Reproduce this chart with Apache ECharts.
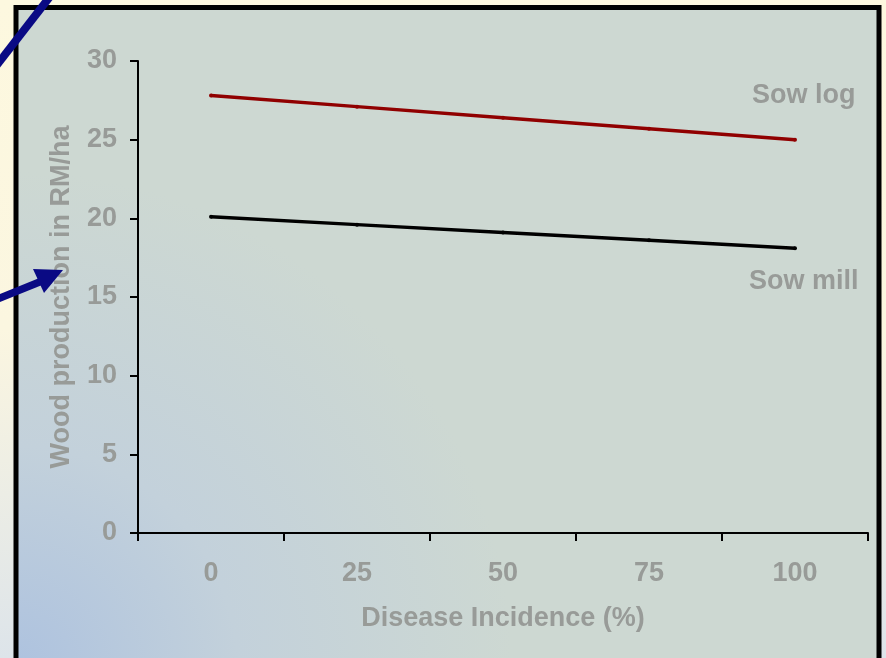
<!DOCTYPE html>
<html>
<head>
<meta charset="utf-8">
<script src="https://cdn.jsdelivr.net/npm/echarts@6/dist/echarts.min.js"></script>
<style>
html,body{margin:0;padding:0;background:#fdf8df;}
#chart{width:886px;height:658px;}
</style>
</head>
<body>
<div id="chart"></div>
<script>
const categories = ['0', '25', '50', '75', '100'];
const sowLog = [27.8, 27.1, 26.4, 25.7, 25.0];
const sowMill = [20.1, 19.6, 19.1, 18.6, 18.1];
const yTicks = { min: 0, max: 30, interval: 5 };

const FONT = 'Arial, "Liberation Sans", sans-serif';
const GRAY = '#989b98';
const NAVY = '#0a0a84';
const FS = 27;

const chart = echarts.init(document.getElementById('chart'));
chart.setOption({
  animation: false,
  backgroundColor: 'transparent',
  textStyle: { fontFamily: FONT },
  graphic: [
    { type: 'rect', z: -20, shape: { x: 0, y: 0, width: 886, height: 658 },
      style: { fill: { type: 'linear', x: 0, y: 0, x2: 0, y2: 1, colorStops: [
        { offset: 0, color: '#fdf8df' }, { offset: 0.5, color: '#fbf6e0' }, { offset: 1, color: '#dde4ea' } ] } } },
    { type: 'rect', z: -10, shape: { x: 16, y: 7.5, width: 863, height: 660 },
      style: { fill: { type: 'radial', x: 0, y: 1, r: 0.75, colorStops: [
        { offset: 0, color: '#adc2df' }, { offset: 0.45, color: '#c3d1db' }, { offset: 1, color: '#cdd8d2' } ] },
        stroke: '#000', lineWidth: 5 } },
    { type: 'line', z: 50, shape: { x1: -5, y1: 67.5, x2: 52, y2: -6 }, style: { stroke: NAVY, lineWidth: 8 } },
    { type: 'line', z: 50, shape: { x1: -5, y1: 300, x2: 42, y2: 281 }, style: { stroke: NAVY, lineWidth: 7.5 } },
    { type: 'polygon', z: 50, shape: { points: [[63, 270], [33, 269], [44, 293]] }, style: { fill: NAVY } },
    { type: 'text', z: 50, left: 752, top: 82, style: { text: 'Sow log', fill: GRAY, font: 'bold ' + FS + 'px ' + FONT } },
    { type: 'text', z: 50, left: 749, top: 268, style: { text: 'Sow mill', fill: GRAY, font: 'bold ' + FS + 'px ' + FONT } }
  ],
  grid: { left: 138, right: 18, top: 61, bottom: 125 },
  xAxis: {
    type: 'category',
    data: categories,
    boundaryGap: true,
    name: 'Disease Incidence (%)',
    nameLocation: 'middle',
    nameGap: 72,
    nameTextStyle: { color: GRAY, fontSize: FS, fontWeight: 'bold', fontFamily: FONT },
    axisLine: { lineStyle: { color: '#000', width: 2 } },
    axisTick: { show: true, length: 8, lineStyle: { color: '#000', width: 2 }, alignWithLabel: false },
    axisLabel: { color: GRAY, fontSize: FS, fontWeight: 'bold', fontFamily: FONT, margin: 27 },
    splitLine: { show: false }
  },
  yAxis: {
    type: 'value',
    min: yTicks.min, max: yTicks.max, interval: yTicks.interval,
    name: 'Wood production in RM/ha',
    nameLocation: 'middle',
    nameGap: 63,
    nameRotate: 90,
    nameTextStyle: { color: GRAY, fontSize: FS, fontWeight: 'bold', fontFamily: FONT },
    axisLine: { show: true, lineStyle: { color: '#000', width: 2 } },
    axisTick: { show: true, length: 8, lineStyle: { color: '#000', width: 2 } },
    axisLabel: { color: GRAY, fontSize: FS, fontWeight: 'bold', fontFamily: FONT, margin: 21 },
    splitLine: { show: false }
  },
  series: [
    { name: 'Sow log', type: 'line', data: sowLog, symbol: 'circle', symbolSize: 4,
      lineStyle: { color: '#900000', width: 3.5 }, itemStyle: { color: '#900000' } },
    { name: 'Sow mill', type: 'line', data: sowMill, symbol: 'circle', symbolSize: 4,
      lineStyle: { color: '#000000', width: 3.5 }, itemStyle: { color: '#000000' } }
  ]
});
</script>
</body>
</html>
